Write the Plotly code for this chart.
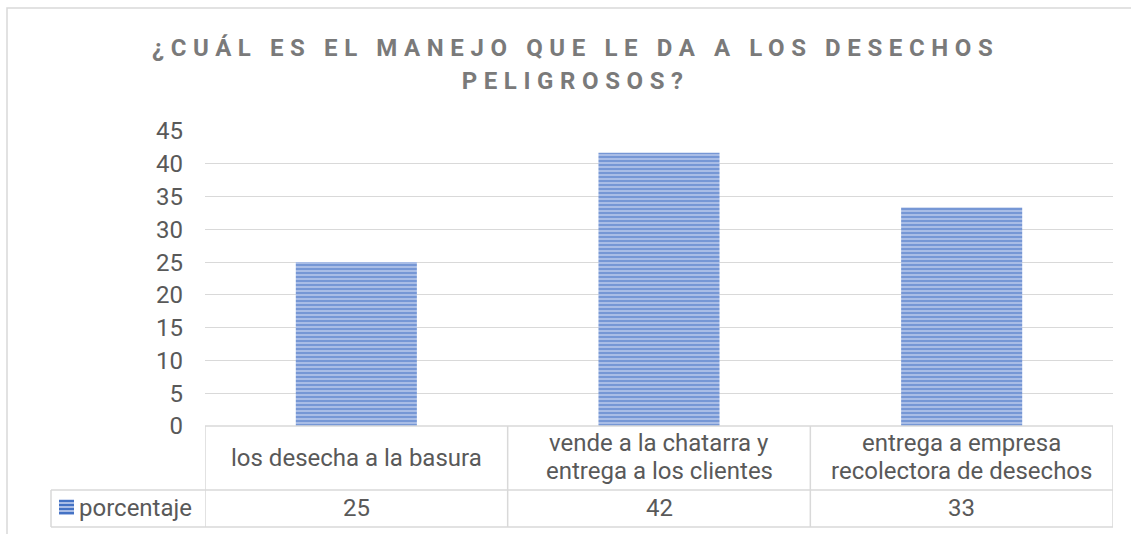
import plotly.graph_objects as go

categories = ["los desecha a la basura",
              "vende a la chatarra y<br>entrega a los clientes",
              "entrega a empresa<br>recolectora de desechos"]
values = [25, 41.67, 33.33]
series_name = "porcentaje"
title_lines = ["¿CUÁL ES EL MANEJO QUE LE DA A LOS DESECHOS", "PELIGROSOS?"]
y_ticks = [0, 5, 10, 15, 20, 25, 30, 35, 40, 45]

W, H = 1131, 534
L, R, T, B = 205, 18, 131, 108
PW, PH = W - L - R, H - T - B

def px(xp):
    return (xp - L) / PW

def py(yp):
    return (H - B - yp) / PH

FONT = "Roboto"
TXT = "#595959"
GRID = "#d9d9d9"
BLUE = "#4472C4"
LIGHT = "#a9bde6"
FS = 24

x_idx = list(range(len(categories)))

fig = go.Figure()
fig.add_trace(go.Bar(
    x=x_idx, y=values, width=0.4, name=series_name,
    marker=dict(color=LIGHT, line=dict(width=0),
                pattern=dict(shape="-", fgcolor=BLUE, bgcolor=LIGHT, size=4, solidity=0.5,
                             fillmode="overlay")),
    showlegend=False, hoverinfo="skip"))

shapes = []
# outer chart border
shapes.append(dict(type="rect", xref="paper", yref="paper", x0=px(7), x1=px(1140), y0=py(8), y1=py(545),
                   line=dict(color=GRID, width=1.5), fillcolor="rgba(0,0,0,0)", layer="below"))
tb_top, tb_mid, tb_bot = 0, py(490), py(527)
shapes.append(dict(type="line", xref="x", yref="paper", x0=-0.5, x1=len(categories) - 0.5, y0=tb_top, y1=tb_top,
                   line=dict(color=GRID, width=1.5)))
shapes.append(dict(type="line", xref="paper", yref="paper", x0=px(51), x1=1, y0=tb_mid, y1=tb_mid,
                   line=dict(color=GRID, width=1.5)))
shapes.append(dict(type="line", xref="paper", yref="paper", x0=px(51), x1=1, y0=tb_bot, y1=tb_bot,
                   line=dict(color=GRID, width=1.5)))
shapes.append(dict(type="line", xref="paper", yref="paper", x0=px(51), x1=px(51), y0=tb_mid, y1=tb_bot,
                   line=dict(color=GRID, width=1.5)))
for i in range(len(categories) + 1):
    shapes.append(dict(type="line", xref="x", yref="paper", x0=i - 0.5, x1=i - 0.5, y0=tb_top, y1=tb_bot,
                       line=dict(color=GRID, width=1.5)))
# legend key (striped square)
kx0, kx1, ky0, ky1 = px(59), px(74), py(499.5), py(515)
shapes.append(dict(type="rect", xref="paper", yref="paper", x0=kx0, x1=kx1, y0=ky0, y1=ky1,
                   fillcolor=LIGHT, line=dict(width=0)))
for k in range(4):
    yy = py(501 + k * 4)
    shapes.append(dict(type="line", xref="paper", yref="paper", x0=kx0, x1=kx1, y0=yy, y1=yy,
                       line=dict(color=BLUE, width=2)))

annotations = []
for i, c in enumerate(categories):
    parts = c.split("<br>")
    centers = [458] if len(parts) == 1 else [443, 471]
    for part, yc in zip(parts, centers):
        annotations.append(dict(x=i, y=py(yc), xref="x", yref="paper", text=part, showarrow=False,
                                xanchor="center", yanchor="middle",
                                font=dict(family=FONT, size=FS, color=TXT)))
    annotations.append(dict(x=i, y=py(508), xref="x", yref="paper", text=str(round(values[i])), showarrow=False,
                            xanchor="center", yanchor="middle",
                            font=dict(family=FONT, size=FS, color=TXT)))
annotations.append(dict(x=px(77), y=py(508), xref="paper", yref="paper", text=series_name, showarrow=False,
                        xanchor="left", yanchor="middle", font=dict(family=FONT, size=FS, color=TXT)))
for j, (line, yc) in enumerate(zip(title_lines, [48, 81])):
    annotations.append(dict(x=px(575), y=py(yc), xref="paper", yref="paper", text=line, showarrow=False,
                            xanchor="center", yanchor="middle", name="title%d" % j,
                            font=dict(family=FONT, size=24, color="#7a7a7a", weight="bold")))

fig.update_layout(
    width=W, height=H,
    margin=dict(l=L, r=R, t=T, b=B, pad=0),
    paper_bgcolor="white", plot_bgcolor="white",
    xaxis=dict(range=[-0.5, len(categories) - 0.5], showticklabels=False, showgrid=False,
               zeroline=False, showline=False, ticks=""),
    yaxis=dict(range=[0, 45], tickvals=y_ticks, showgrid=True, gridcolor=GRID, gridwidth=1,
               zeroline=False, showline=False, ticks="", ticklabelstandoff=21,
               tickfont=dict(family=FONT, size=FS, color=TXT)),
    shapes=shapes, annotations=annotations, bargap=0.6,
    font=dict(family=FONT),
)

post = """
document.body.style.margin='0';
var ts = document.querySelectorAll('.annotation-text');
ts.forEach(function(t){ if (t.textContent.indexOf('CUÁL')>=0 || t.textContent.indexOf('PELIGROSOS')>=0){ t.style.letterSpacing='6.6px'; }});
"""
fig.write_html("out.html", post_script=post, config={"displayModeBar": False})
